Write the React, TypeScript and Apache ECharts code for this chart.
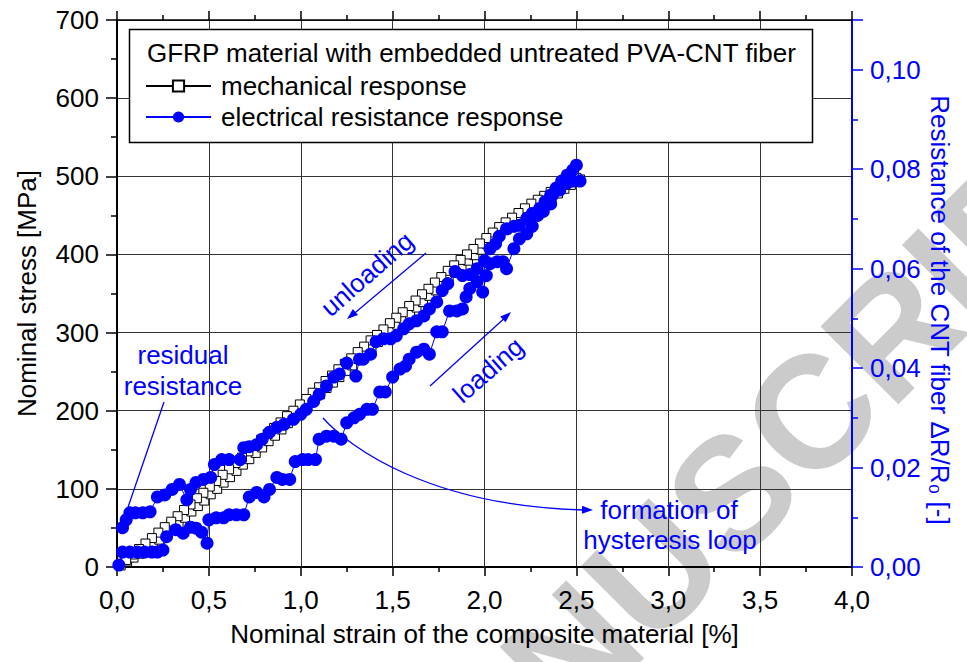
import React, { useEffect, useRef } from "react";
import * as echarts from "echarts";

// ---------- data ----------
const strainTicks = [0, 0.5, 1, 1.5, 2, 2.5, 3, 3.5, 4];
const stressTicks = [0, 100, 200, 300, 400, 500, 600, 700];
const resistanceTicks = [0, 0.02, 0.04, 0.06, 0.08, 0.1];

// mechanical response: loading branch [strain %, stress MPa]
const mechLoading: number[][] = [
  [0.02, 2], [0.055, 7], [0.09, 12], [0.125, 17], [0.16, 23], [0.195, 29], [0.23, 35], [0.265, 42],
  [0.3, 49], [0.335, 56], [0.37, 63], [0.405, 71], [0.44, 78], [0.475, 85], [0.51, 93], [0.545, 100],
  [0.58, 108], [0.615, 115], [0.65, 123], [0.685, 131], [0.72, 138], [0.755, 146], [0.79, 153],
  [0.825, 161], [0.86, 168], [0.895, 176], [0.93, 184], [0.965, 191], [1.0, 199], [1.035, 206],
  [1.07, 214], [1.105, 221], [1.14, 229], [1.175, 236], [1.21, 243], [1.245, 251], [1.28, 258],
  [1.315, 266], [1.35, 273], [1.385, 280], [1.42, 288], [1.455, 295], [1.49, 302], [1.525, 310],
  [1.56, 317], [1.595, 324], [1.63, 332], [1.665, 339], [1.7, 347], [1.735, 354], [1.77, 362],
  [1.805, 369], [1.84, 377], [1.875, 384], [1.91, 392], [1.945, 399], [1.98, 406], [2.015, 413],
  [2.05, 419], [2.085, 426], [2.12, 432], [2.155, 438], [2.19, 444], [2.225, 450], [2.26, 456],
  [2.295, 462], [2.33, 468], [2.365, 473], [2.4, 478], [2.435, 484], [2.47, 489], [2.505, 494], [2.52, 496],
];

// mechanical response: unloading branch [strain %, stress MPa]
const mechUnloading: number[][] = [
  [2.5, 498], [2.465, 494], [2.43, 490], [2.395, 485], [2.36, 480], [2.325, 475], [2.29, 470],
  [2.255, 465], [2.22, 459], [2.185, 453], [2.15, 447], [2.115, 441], [2.08, 435], [2.045, 428],
  [2.01, 421], [1.975, 414], [1.94, 407], [1.905, 400], [1.87, 393], [1.835, 386], [1.8, 379],
  [1.765, 371], [1.73, 364], [1.695, 356], [1.66, 349], [1.625, 341], [1.59, 334], [1.555, 326],
  [1.52, 319], [1.485, 312], [1.45, 304], [1.415, 297], [1.38, 290], [1.345, 282], [1.31, 275],
  [1.275, 267], [1.24, 260], [1.205, 253], [1.17, 245], [1.135, 238], [1.1, 230], [1.065, 223],
  [1.03, 215], [0.995, 208], [0.96, 200], [0.925, 193], [0.89, 185], [0.855, 178], [0.82, 170],
  [0.785, 163], [0.75, 155], [0.715, 148], [0.68, 140], [0.645, 133], [0.61, 125], [0.575, 118],
  [0.54, 110], [0.505, 103], [0.47, 95], [0.435, 88], [0.4, 80], [0.365, 73], [0.33, 65],
  [0.295, 58], [0.26, 51], [0.225, 44], [0.19, 37], [0.155, 30], [0.12, 23], [0.085, 16], [0.05, 9],
];

// electrical resistance response: loading branch [strain %, dR/R0]
const elecLoading: number[][] = [
  [0.01, 0.0004], [0.03, 0.003], [0.07, 0.003], [0.11, 0.003], [0.15, 0.003], [0.19, 0.003],
  [0.22, 0.003], [0.25, 0.0034], [0.27, 0.0061], [0.32, 0.0075], [0.36, 0.0068], [0.4, 0.008],
  [0.43, 0.0078], [0.46, 0.007], [0.49, 0.0048], [0.5, 0.0095], [0.54, 0.0099], [0.58, 0.0099],
  [0.61, 0.0105], [0.65, 0.0105], [0.69, 0.0105], [0.72, 0.0141], [0.76, 0.015], [0.8, 0.0141],
  [0.83, 0.0156], [0.87, 0.018], [0.9, 0.0176], [0.94, 0.0176], [0.97, 0.0212], [1.01, 0.0216],
  [1.04, 0.0216], [1.08, 0.0216], [1.1, 0.0257], [1.14, 0.0263], [1.18, 0.0263], [1.22, 0.0257],
  [1.25, 0.029], [1.29, 0.03], [1.32, 0.0307], [1.36, 0.0317], [1.39, 0.0317], [1.43, 0.0352],
  [1.46, 0.0352], [1.5, 0.0382], [1.54, 0.0398], [1.57, 0.0404], [1.59, 0.0418], [1.63, 0.0432],
  [1.67, 0.0438], [1.7, 0.0428], [1.74, 0.0473], [1.77, 0.0473], [1.81, 0.0515], [1.85, 0.0515],
  [1.88, 0.0519], [1.9, 0.0543], [1.92, 0.056], [1.96, 0.0574], [1.99, 0.0553], [2.01, 0.0586],
  [2.03, 0.061], [2.07, 0.0614], [2.1, 0.0614], [2.12, 0.06], [2.16, 0.064], [2.19, 0.066],
  [2.23, 0.067], [2.26, 0.0685], [2.29, 0.0707], [2.32, 0.0715], [2.36, 0.073], [2.37, 0.0748],
  [2.41, 0.0758], [2.45, 0.0772], [2.48, 0.0776], [2.52, 0.0776], [2.5, 0.0808],
];

// electrical resistance response: unloading branch [strain %, dR/R0]
const elecUnloading: number[][] = [
  [2.48, 0.0798], [2.45, 0.0788], [2.42, 0.0776], [2.39, 0.0762], [2.36, 0.0748], [2.33, 0.0735],
  [2.3, 0.0721], [2.26, 0.0711], [2.23, 0.0701], [2.19, 0.0687], [2.16, 0.0685], [2.12, 0.068],
  [2.08, 0.0665], [2.06, 0.065], [2.03, 0.064], [2.0, 0.0616], [1.96, 0.06], [1.92, 0.0588],
  [1.88, 0.0586], [1.84, 0.0594], [1.8, 0.057], [1.77, 0.0556], [1.74, 0.0533], [1.7, 0.0519],
  [1.67, 0.0505], [1.63, 0.0495], [1.59, 0.0489], [1.56, 0.0479], [1.52, 0.0465], [1.49, 0.0459],
  [1.45, 0.0459], [1.41, 0.0453], [1.38, 0.0428], [1.34, 0.0418], [1.32, 0.0418], [1.3, 0.0384],
  [1.25, 0.041], [1.21, 0.0388], [1.18, 0.0382], [1.14, 0.0364], [1.1, 0.0347], [1.07, 0.0333],
  [1.03, 0.0317], [1.0, 0.0307], [0.96, 0.0297], [0.91, 0.0287], [0.87, 0.0281], [0.83, 0.0271],
  [0.79, 0.0257], [0.76, 0.0246], [0.72, 0.0242], [0.69, 0.024], [0.67, 0.0216], [0.61, 0.0216],
  [0.57, 0.0216], [0.53, 0.0206], [0.51, 0.018], [0.47, 0.0176], [0.43, 0.017], [0.4, 0.0156],
  [0.38, 0.0135], [0.34, 0.0166], [0.3, 0.0156], [0.26, 0.0145], [0.22, 0.0141], [0.18, 0.0111],
  [0.14, 0.0109], [0.1, 0.0109], [0.07, 0.0109], [0.05, 0.0095], [0.03, 0.0079],
];

const legendTitle = "GFRP material with embedded untreated PVA-CNT fiber";
const seriesNames = ["mechanical response", "electrical resistance response"];

// ---------- helpers ----------
const FONT = "'Liberation Sans', Arial, Helvetica, sans-serif";
const FS = 26;
const BLUE = "#0000ff";

function arrowHead(x1: number, y1: number, x2: number, y2: number, len = 11, half = 4) {
  const dx = x2 - x1;
  const dy = y2 - y1;
  const L = Math.hypot(dx, dy);
  const ux = dx / L;
  const uy = dy / L;
  const bx = x2 - ux * len;
  const by = y2 - uy * len;
  return [
    [x2, y2],
    [bx - uy * half, by + ux * half],
    [bx + uy * half, by - ux * half],
  ];
}

function blueText(text: string, x: number, y: number, rotation = 0) {
  return {
    type: "text",
    x,
    y,
    rotation,
    z: 6,
    style: {
      text,
      fill: BLUE,
      font: `${FS}px ${FONT}`,
      align: "center",
      verticalAlign: "middle",
    },
  };
}

function blueLine(x1: number, y1: number, x2: number, y2: number) {
  return {
    type: "line",
    z: 6,
    shape: { x1, y1, x2, y2 },
    style: { stroke: BLUE, lineWidth: 1.3 },
  };
}

function blueHead(x1: number, y1: number, x2: number, y2: number, len = 11, half = 4) {
  return {
    type: "polygon",
    z: 6,
    shape: { points: arrowHead(x1, y1, x2, y2, len, half) },
    style: { fill: BLUE },
  };
}

export default function App() {
  const ref = useRef<HTMLDivElement>(null);

  useEffect(() => {
    if (!ref.current) return;
    const chart = echarts.init(ref.current, null, { renderer: "svg" });

    const mechData = [...mechLoading, ...mechUnloading];
    const elecData = [...elecLoading, ...elecUnloading];

    const commaFmt = (digits: number) => (v: number) => v.toFixed(digits).replace(".", ",");

    // hysteresis curve geometry (annotation)
    const c = { x1: 323, y1: 418, cpx1: 350, cpy1: 448, cpx2: 430, cpy2: 506, x2: 584, y2: 510 };

    const option: any = {
      animation: false,
      textStyle: { fontFamily: FONT },
      grid: { left: 117, top: 20, width: 735, height: 547, show: false },
      legend: {
        show: true,
        orient: "vertical",
        left: 140,
        top: 68,
        itemWidth: 65,
        itemHeight: 14,
        itemGap: 5,
        selectedMode: false,
        z: 10,
        data: seriesNames,
        textStyle: { fontSize: FS, color: "#000", fontFamily: FONT, padding: [0, 0, 0, 5] },
      },
      xAxis: [
        {
          type: "value",
          min: strainTicks[0],
          max: strainTicks[strainTicks.length - 1],
          interval: 0.5,
          name: "Nominal strain of the composite material [%]",
          nameLocation: "middle",
          nameGap: 54,
          nameTextStyle: { fontSize: FS, color: "#000", fontFamily: FONT },
          axisLine: { show: true, onZero: false, lineStyle: { color: "#000", width: 2 } },
          axisTick: { show: true, inside: false, length: 9, lineStyle: { color: "#000", width: 1.5 } },
          minorTick: { show: true, splitNumber: 2, length: 5, lineStyle: { color: "#000", width: 1.5 } },
          axisLabel: { fontSize: FS, color: "#000", margin: 20, formatter: commaFmt(1) },
          splitLine: { show: true, lineStyle: { color: "#333", width: 1 } },
        },
        {
          type: "value",
          position: "top",
          min: strainTicks[0],
          max: strainTicks[strainTicks.length - 1],
          interval: 0.5,
          axisLine: { show: true, onZero: false, lineStyle: { color: "#000", width: 1.5 } },
          axisTick: { show: true, inside: false, length: 9, lineStyle: { color: "#000", width: 1.5 } },
          minorTick: { show: true, splitNumber: 2, length: 5, lineStyle: { color: "#000", width: 1.5 } },
          axisLabel: { show: false },
          splitLine: { show: false },
        },
      ],
      yAxis: [
        {
          type: "value",
          position: "left",
          min: stressTicks[0],
          max: stressTicks[stressTicks.length - 1],
          interval: 100,
          name: "Nominal stress [MPa]",
          nameLocation: "middle",
          nameGap: 77,
          nameTextStyle: { fontSize: FS, color: "#000", fontFamily: FONT },
          axisLine: { show: true, onZero: false, lineStyle: { color: "#000", width: 2 } },
          axisTick: { show: true, inside: false, length: 11, lineStyle: { color: "#000", width: 1.5 } },
          minorTick: { show: true, splitNumber: 2, length: 6, lineStyle: { color: "#000", width: 1.5 } },
          axisLabel: { fontSize: FS, color: "#000", margin: 18 },
          splitLine: { show: true, lineStyle: { color: "#333", width: 1 } },
        },
        {
          type: "value",
          position: "right",
          min: resistanceTicks[0],
          max: 0.11,
          interval: 0.02,
          axisLine: { show: true, onZero: false, lineStyle: { color: BLUE, width: 2 } },
          axisTick: { show: true, inside: false, length: 11, lineStyle: { color: BLUE, width: 1.5 } },
          minorTick: { show: true, splitNumber: 2, length: 6, lineStyle: { color: BLUE, width: 1.5 } },
          axisLabel: {
            fontSize: FS,
            color: BLUE,
            margin: 18,
            showMaxLabel: false,
            formatter: (v: number) =>
              resistanceTicks.some((t) => Math.abs(t - v) < 1e-9) ? commaFmt(2)(v) : "",
          },
          splitLine: { show: false },
        },
      ],
      series: [
        {
          name: seriesNames[0],
          type: "line",
          xAxisIndex: 0,
          yAxisIndex: 0,
          data: mechData,
          symbol: "rect",
          symbolSize: 9,
          showAllSymbol: true,
          lineStyle: { color: "#000", width: 1 },
          itemStyle: { color: "#fff", borderColor: "#000", borderWidth: 1 },
          z: 2,
        },
        {
          name: seriesNames[1],
          type: "line",
          xAxisIndex: 0,
          yAxisIndex: 1,
          data: elecData,
          symbol: "circle",
          symbolSize: 13,
          showAllSymbol: true,
          lineStyle: { color: BLUE, width: 1 },
          itemStyle: { color: BLUE, borderColor: BLUE, borderWidth: 0 },
          z: 3,
        },
      ],
      graphic: {
        elements: [
          // watermark of the source document
          {
            type: "text",
            x: 732,
            y: 492,
            rotation: Math.PI / 4,
            z: -1,
            silent: true,
            style: {
              text: "MANUSCRIPT",
              fill: "#cbcbcb",
              font: `bold 160px ${FONT}`,
              align: "center",
              verticalAlign: "middle",
            },
          },
          // legend frame and title
          {
            type: "rect",
            z: 5,
            shape: { x: 129.5, y: 29.5, width: 683, height: 113 },
            style: { fill: "#fff", stroke: "#000", lineWidth: 1.5 },
          },
          {
            type: "text",
            x: 147,
            y: 53,
            z: 6,
            style: {
              text: legendTitle,
              fill: "#000",
              font: `${FS}px ${FONT}`,
              align: "left",
              verticalAlign: "middle",
            },
          },
          // right axis title
          {
            type: "text",
            x: 940,
            y: 310,
            rotation: -Math.PI / 2,
            z: 6,
            style: {
              text: "Resistance of the CNT fiber ΔR/R₀ [-]",
              fill: BLUE,
              font: `${FS}px ${FONT}`,
              align: "center",
              verticalAlign: "middle",
            },
          },
          // annotations
          blueText("unloading", 367, 274, 0.72),
          blueLine(426, 253, 350, 317),
          blueHead(426, 253, 347, 319),
          blueText("loading", 488, 370, 0.72),
          blueLine(430, 386, 508, 315),
          blueHead(430, 386, 511, 312),
          blueText("residual", 183, 355),
          blueText("resistance", 183, 386),
          blueLine(164, 402, 124, 519),
          blueHead(164, 402, 122, 524, 9, 3),
          blueText("formation of", 669, 510),
          blueText("hysteresis loop", 670, 540),
          {
            type: "bezierCurve",
            z: 6,
            shape: c,
            style: { stroke: BLUE, lineWidth: 1.3, fill: "none" },
          },
          blueHead(c.cpx2, c.cpy2, 593, 510),
        ],
      },
    };

    chart.setOption(option);
    return () => {
      chart.dispose();
    };
  }, []);

  return (
    <div
      ref={ref}
      style={{ position: "fixed", left: 0, top: 0, width: 967, height: 662, background: "#fff" }}
    />
  );
}
